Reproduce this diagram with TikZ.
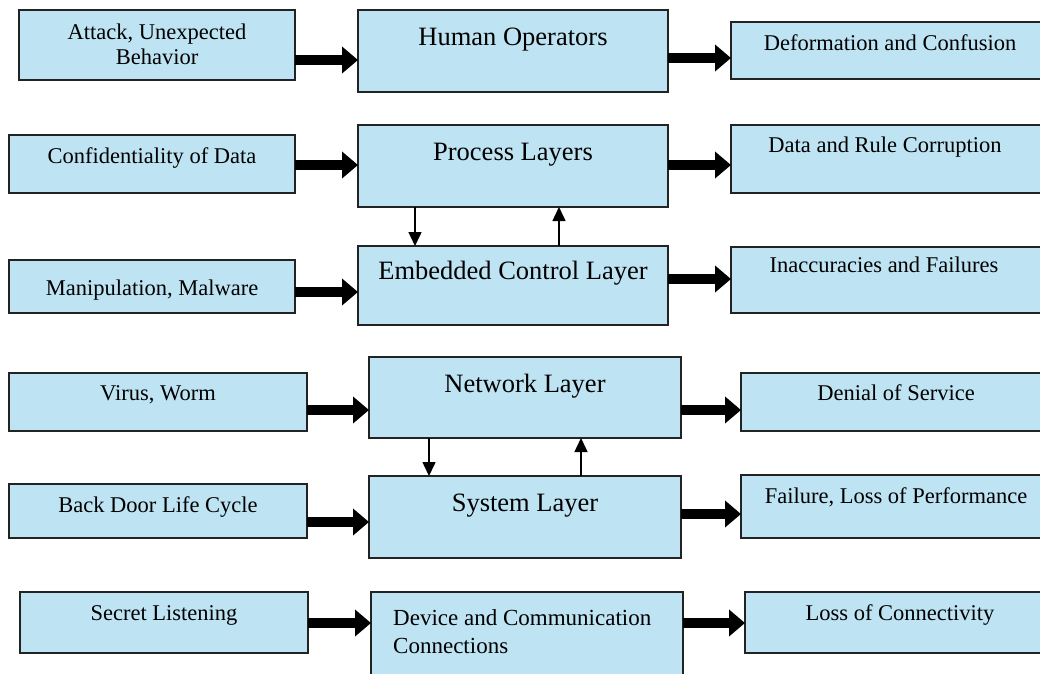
\documentclass[tikz,border=0pt]{standalone}
\usepackage{fontspec}
\setmainfont{Liberation Serif}
\usetikzlibrary{arrows.meta}
\definecolor{boxfill}{RGB}{190,227,243}
\definecolor{boxline}{RGB}{35,35,35}
\tikzset{
  blk/.style={draw=boxline, line width=1.6pt, fill=boxfill, rectangle, inner sep=0pt, outer sep=0pt},
  sidetext/.style={font=\fontsize{22.5}{27}\selectfont, inner sep=0pt, anchor=base},
  midtext/.style={font=\fontsize{26.5}{31}\selectfont, inner sep=0pt, anchor=base},
  flow/.style={line width=10pt, -{Triangle[length=16pt,width=26pt]}},
  link/.style={line width=1.5pt, -{Triangle[length=14pt,width=13pt]}},
}
% box from (x1,y1) to (x2,y2), y measured downwards
\newcommand{\mkbox}[5]{%
  \node[blk, minimum width={#4-#2}, minimum height={#5-#3}] (#1) at ({(#2+#4)/2},{(#3+#5)/2}) {};}
\begin{document}
\begin{tikzpicture}[x=1pt,y=-1pt]
\useasboundingbox (0,0) rectangle (1040,673);
\clip (0,0) rectangle (1040,673);

% threats, layers, consequences
\mkbox{L1}{19}{10}{295}{80}
\mkbox{M1}{358}{10}{668}{92}
\mkbox{R1}{731}{22}{1050}{79}
\mkbox{L2}{9}{135}{295}{193}
\mkbox{M2}{358}{125}{668}{207}
\mkbox{R2}{731}{125}{1050}{193}
\mkbox{L3}{9}{260}{295}{313}
\mkbox{M3}{358}{246}{668}{325}
\mkbox{R3}{731}{247}{1050}{313}
\mkbox{L4}{9}{373}{307}{431}
\mkbox{M4}{369}{357}{681}{438}
\mkbox{R4}{741}{373}{1050}{431}
\mkbox{L5}{9}{484}{307}{538}
\mkbox{M5}{369}{476}{681}{558}
\mkbox{R5}{741}{475}{1050}{538}
\mkbox{L6}{20}{592}{308}{653}
\mkbox{M6}{371}{592}{683}{700}
\mkbox{R6}{745}{592}{1050}{653}

% labels
\node[sidetext] (tL1a) at (157,39) {Attack, Unexpected};
\node[sidetext] (tL1b) at (157,64) {Behavior};
\node[midtext]  (tM1) at (513,45) {Human Operators};
\node[sidetext] (tR1) at (890,50) {Deformation and Confusion};

\node[sidetext] (tL2) at (152,163) {Confidentiality of Data};
\node[midtext]  (tM2) at (513,160) {Process Layers};
\node[sidetext] (tR2) at (885,152) {Data and Rule Corruption};

\node[sidetext] (tL3) at (152,295) {Manipulation, Malware};
\node[midtext]  (tM3) at (513,279) {Embedded Control Layer};
\node[sidetext] (tR3) at (884,272) {Inaccuracies and Failures};

\node[sidetext] (tL4) at (158,400) {Virus, Worm};
\node[midtext]  (tM4) at (525,392) {Network Layer};
\node[sidetext] (tR4) at (896,400) {Denial of Service};

\node[sidetext] (tL5) at (158,512) {Back Door Life Cycle};
\node[midtext]  (tM5) at (525,511) {System Layer};
\node[sidetext] (tR5) at (896,503) {Failure, Loss of Performance};

\node[sidetext] (tL6) at (164,620) {Secret Listening};
\node[sidetext, anchor=base west, font=\fontsize{23}{28}\selectfont] (tM6a) at (393,625) {Device and Communication};
\node[sidetext, anchor=base west, font=\fontsize{23}{28}\selectfont] (tM6b) at (393,653) {Connections};
\node[sidetext] (tR6) at (900,620) {Loss of Connectivity};

% thick flow arrows
\draw[flow] (L1.east |- 0,60)  -- (M1.west |- 0,60);
\draw[flow] (M1.east |- 0,58)  -- (R1.west |- 0,58);
\draw[flow] (L2.east |- 0,165) -- (M2.west |- 0,165);
\draw[flow] (M2.east |- 0,165) -- (R2.west |- 0,165);
\draw[flow] (L3.east |- 0,292) -- (M3.west |- 0,292);
\draw[flow] (M3.east |- 0,279) -- (R3.west |- 0,279);
\draw[flow] (L4.east |- 0,410) -- (M4.west |- 0,410);
\draw[flow] (M4.east |- 0,410) -- (R4.west |- 0,410);
\draw[flow] (L5.east |- 0,522) -- (M5.west |- 0,522);
\draw[flow] (M5.east |- 0,514) -- (R5.west |- 0,514);
\draw[flow] (L6.east |- 0,623) -- (M6.west |- 0,623);
\draw[flow] (M6.east |- 0,623) -- (R6.west |- 0,623);

% links between layers
\draw[link] (M2.south -| 415,0) -- (M3.north -| 415,0);
\draw[link] (M3.north -| 559,0) -- (M2.south -| 559,0);
\draw[link] (M4.south -| 429,0) -- (M5.north -| 429,0);
\draw[link] (M5.north -| 581,0) -- (M4.south -| 581,0);
\end{tikzpicture}
\end{document}
